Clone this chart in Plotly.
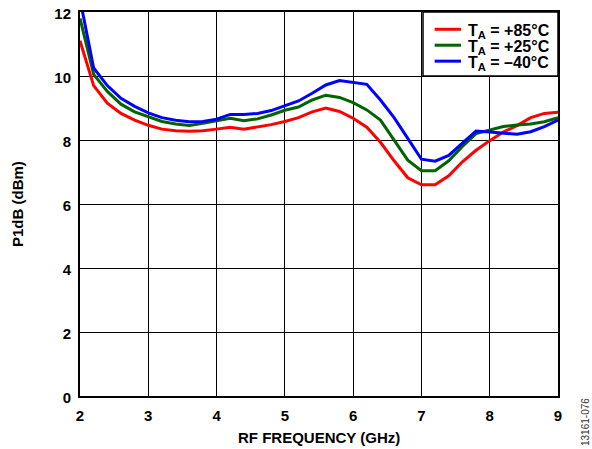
import plotly.graph_objects as go

freq = [2.0, 2.2, 2.4, 2.6, 2.8, 3.0, 3.2, 3.4, 3.6, 3.8, 4.0, 4.2, 4.4, 4.6, 4.8, 5.0, 5.2, 5.4,
        5.6, 5.8, 6.0, 6.2, 6.4, 6.6, 6.8, 7.0, 7.2, 7.4, 7.6, 7.8, 8.0, 8.2, 8.4, 8.6, 8.8, 9.0]

p1db_85 = [11.1, 9.7, 9.15, 8.83, 8.62, 8.46, 8.34, 8.29, 8.27, 8.29, 8.34, 8.40, 8.34, 8.40, 8.48, 8.58, 8.70, 8.88,
           9.0, 8.89, 8.68, 8.40, 7.93, 7.35, 6.82, 6.60, 6.60, 6.88, 7.32, 7.68, 7.98, 8.25, 8.45, 8.70, 8.83, 8.87]
p1db_25 = [11.8, 10.05, 9.52, 9.12, 8.88, 8.72, 8.58, 8.50, 8.45, 8.52, 8.60, 8.68, 8.60, 8.66, 8.78, 8.93, 9.03, 9.25,
           9.40, 9.33, 9.17, 8.94, 8.62, 7.98, 7.37, 7.04, 7.04, 7.35, 7.80, 8.20, 8.32, 8.42, 8.47, 8.50, 8.57, 8.70]
p1db_m40 = [12.4, 10.25, 9.70, 9.30, 9.05, 8.85, 8.70, 8.62, 8.57, 8.58, 8.65, 8.80, 8.80, 8.83, 8.92, 9.06, 9.22, 9.46,
            9.72, 9.86, 9.80, 9.74, 9.25, 8.70, 8.05, 7.40, 7.34, 7.52, 7.90, 8.28, 8.25, 8.22, 8.18, 8.26, 8.42, 8.62]

series_names = ["T<sub>A</sub> = +85°C", "T<sub>A</sub> = +25°C", "T<sub>A</sub> = –40°C"]
series_colors = ["#ff0000", "#006400", "#0000ff"]
x_ticks = [2, 3, 4, 5, 6, 7, 8, 9]
y_ticks = [0, 2, 4, 6, 8, 10, 12]

font_family = "Liberation Sans, Arial, sans-serif"

fig = go.Figure()
for name, vals, col in zip(series_names, [p1db_85, p1db_25, p1db_m40], series_colors):
    fig.add_trace(go.Scatter(x=freq, y=vals, mode="lines", name=name,
                             line=dict(color=col, width=3), showlegend=False))

fig.update_layout(
    width=592, height=449,
    margin=dict(l=80, r=34, t=12, b=53),
    paper_bgcolor="white", plot_bgcolor="white",
    font=dict(family=font_family, color="black"),
    xaxis=dict(range=[2, 9], tickvals=x_ticks, showgrid=True, gridcolor="black", gridwidth=1,
               showline=True, linecolor="black", linewidth=2, mirror=True, zeroline=False,
               ticks="", ticklabelstandoff=5, automargin=False, ticklabeloverflow="allow",
               tickfont=dict(size=15, weight="bold")),
    yaxis=dict(range=[0, 12], tickvals=y_ticks, showgrid=True, gridcolor="black", gridwidth=1,
               showline=True, linecolor="black", linewidth=2, mirror=True, zeroline=False,
               ticks="", ticklabelstandoff=4, ticklabelshift=2, automargin=False,
               ticklabeloverflow="allow", tickfont=dict(size=15, weight="bold")),
)

# Legend box (drawn manually to match the compact original)
fig.add_shape(type="rect", xref="paper", yref="paper", x0=0.7176, x1=1.0, y0=0.8333, y1=1.0,
              fillcolor="white", line=dict(color="black", width=1.5), layer="above")
leg_y = [0.955, 0.9135, 0.872]
for name, col, ly in zip(series_names, series_colors, leg_y):
    fig.add_shape(type="line", xref="paper", yref="paper", x0=0.742, x1=0.797, y0=ly, y1=ly,
                  line=dict(color=col, width=3), layer="above")
    fig.add_annotation(text="<b>" + name + "</b>", xref="paper", yref="paper", x=0.808, y=ly,
                       xanchor="left", yanchor="middle", showarrow=False, yshift=-2,
                       font=dict(size=16, color="black", family=font_family))

fig.add_annotation(text="<b>RF FREQUENCY (GHz)</b>", xref="paper", yref="paper", x=0.5, y=0,
                   yshift=-41, xanchor="center", yanchor="middle", showarrow=False,
                   font=dict(size=15, color="black", family=font_family))
fig.add_annotation(text="<b>P1dB (dBm)</b>", xref="paper", yref="paper", x=0, y=0.5,
                   xshift=-63, textangle=-90, xanchor="center", yanchor="middle", showarrow=False,
                   font=dict(size=15, color="black", family=font_family))
fig.add_annotation(text="13161-076", xref="paper", yref="paper", x=1.0, y=0,
                   xshift=27, yshift=-26, textangle=-90, showarrow=False, xanchor="center", yanchor="middle",
                   font=dict(size=10, color="#333333", family=font_family))
fig.write_html("out.html", config={"displayModeBar": False},
               post_script="document.body.style.margin='0';document.body.style.overflow='hidden';")
